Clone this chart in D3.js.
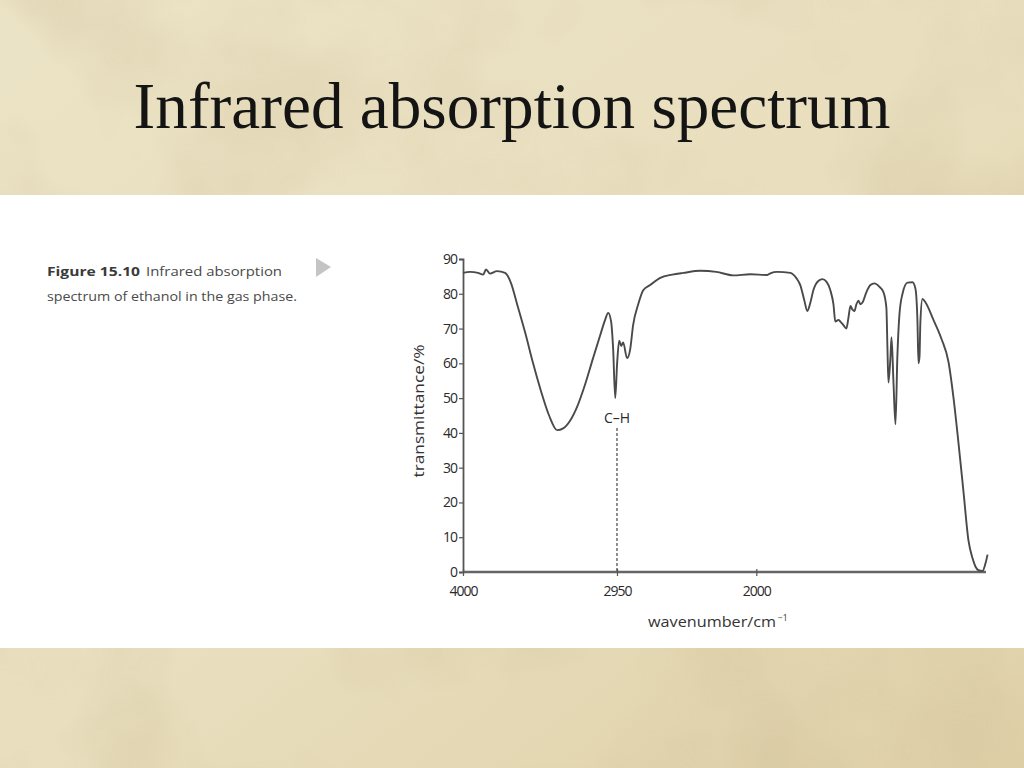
<!DOCTYPE html>
<html><head><meta charset="utf-8">
<script src="https://cdn.jsdelivr.net/npm/d3@7/dist/d3.min.js"></script>
<style>html,body{margin:0;padding:0;background:#e9dfc1;}svg{display:block;}</style>
</head><body>
<svg id="c" width="1024" height="768"></svg>
<script>
// ---- data ----
const wavenumber = [4000,3952,3898,3863,3843,3816,3768,3713,3672,3631,3577,3522,3468,3413,3358,3317,3270,3222,3167,3113,3065,3031,3010,2990,2976,2962,2949,2935,2921,2908,2881,2860,2840,2805,2771,2724,2655,2573,2498,2382,2273,2157,2041,1925,1904,1857,1768,1727,1700,1672,1652,1631,1611,1577,1549,1522,1495,1474,1461,1440,1427,1406,1386,1372,1358,1345,1331,1317,1304,1290,1276,1249,1222,1195,1160,1133,1113,1106,1099,1085,1078,1065,1051,1038,1024,1003,969,935,915,901,894,887,881,867,846,792,737,689,655,621,587,553,526,505,485,457,437,423];
const transmittance = [86,86.3,86,85.5,87,85.8,86.5,86,83,77,69,60,52,45,40.8,41.3,43.5,47.5,54,61.5,68,72.5,74.5,72,64,50,60,66.5,65,66,61.5,64,71,77,81,82.5,84.6,85.5,86,86.6,86.3,85.3,85.6,85.4,85.9,86.3,86,84.5,82.5,78,75,77.5,81,83.7,84.2,83.5,81,77,72,72.5,72,71,70,73,76.5,75.5,75,77,78,77,77.5,80.5,82.5,83,82,80.5,76,65,54.5,62,67.5,55,42.5,62,74,80,83.2,83.3,81.5,72,60,62,72,78.5,77.5,72.5,67,60.3,50,37,23,9,4,1.5,0.5,0.3,2.5,5];
const yTicks = [0,10,20,30,40,50,60,70,80,90];
const xTicks = [4000,2950,2000];
const markerWavenumber = 2950;
const markerLabel = "C–H";
const titleText = "Infrared absorption spectrum";
const captionBold = "Figure 15.10";
const captionLine1 = "Infrared absorption";
const captionLine2 = "spectrum of ethanol in the gas phase.";
const xLabel = "wavenumber/cm";
const yLabel = "transmittance/%";

const svg = d3.select("#c");
const defs = svg.append("defs");

// background paper
const g1 = defs.append("linearGradient").attr("id","bg").attr("x1","0").attr("y1","0").attr("x2","1").attr("y2","1");
g1.append("stop").attr("offset","0").attr("stop-color","#ebe3c5");
g1.append("stop").attr("offset","0.5").attr("stop-color","#e9dfbf");
g1.append("stop").attr("offset","1").attr("stop-color","#dfd0a7");
const f = defs.append("filter").attr("id","paper").attr("x","0").attr("y","0").attr("width","1").attr("height","1");
f.append("feTurbulence").attr("type","fractalNoise").attr("baseFrequency","0.006").attr("numOctaves","4").attr("seed","7");
f.append("feColorMatrix").attr("type","matrix")
 .attr("values","0 0 0 0 0.62  0 0 0 0 0.52  0 0 0 0 0.32  0 0 0 1.6 -0.7");
svg.append("rect").attr("width",1024).attr("height",768).attr("fill","url(#bg)");
svg.append("rect").attr("width",1024).attr("height",768).attr("filter","url(#paper)").attr("opacity",0.5);

// white panel
svg.append("rect").attr("x",0).attr("y",195).attr("width",1024).attr("height",453).attr("fill","#ffffff");

// title
const title = svg.append("text").attr("x",512).attr("y",128).attr("text-anchor","middle")
  .attr("font-family","'Liberation Serif','DejaVu Serif',serif").attr("font-size",56).attr("fill","#141414")
  .text(titleText);
const tl = title.node().getComputedTextLength();
title.attr("font-size", 56*757/tl);

// caption
const capFont = "'Open Sans','Noto Sans',sans-serif";
svg.append("text").attr("x",47).attr("y",276).attr("font-family",capFont).attr("font-size",12.5)
  .attr("font-weight","bold").attr("fill","#3a3a3a").text(captionBold)
  .attr("textLength",93).attr("lengthAdjust","spacingAndGlyphs");
svg.append("text").attr("x",146).attr("y",276).attr("font-family",capFont).attr("font-size",12.5)
  .attr("fill","#4a4a4a").text(captionLine1).attr("textLength",136).attr("lengthAdjust","spacingAndGlyphs");
svg.append("text").attr("x",47).attr("y",301).attr("font-family",capFont).attr("font-size",12.5)
  .attr("fill","#4a4a4a").text(captionLine2).attr("textLength",250).attr("lengthAdjust","spacingAndGlyphs");
svg.append("path").attr("d","M316,258 L331,267 L316,277 Z").attr("fill","#c4c4c4");

// scales
const x = d3.scaleLinear().domain([4000,420]).range([463,988]);
const y = d3.scaleLinear().domain([0,90]).range([572,259]);
const axFont = "'Open Sans','Noto Sans',sans-serif";

// y axis
const ya = svg.append("g").attr("transform","translate(463,0)")
  .call(d3.axisLeft(y).tickValues(yTicks).tickSize(4).tickPadding(2));
ya.select(".domain").attr("stroke","#555").attr("stroke-width",1.8);
ya.selectAll(".tick line").attr("stroke","#555").attr("stroke-width",1.2);
ya.selectAll("text").attr("font-family",axFont).attr("font-size",14).attr("fill","#2a2a2a").attr("letter-spacing","-1");

// x axis
const xa = svg.append("g").attr("transform","translate(0,572)")
  .call(d3.axisBottom(x).tickValues(xTicks).tickSize(4).tickPadding(10).tickFormat(d3.format("d")));
xa.select(".domain").attr("stroke","#666").attr("stroke-width",2.4).attr("d","M463,0H986");
xa.selectAll(".tick line").attr("stroke","#555").attr("stroke-width",1.2).attr("y1",-3);
xa.selectAll("text").attr("font-family",axFont).attr("font-size",14).attr("fill","#2a2a2a").attr("letter-spacing","-1");

// axis labels
svg.append("text").attr("transform","translate(424,411) rotate(-90)").attr("text-anchor","middle")
  .attr("font-family",axFont).attr("font-size",14).attr("fill","#333").text(yLabel)
  .attr("textLength",133).attr("lengthAdjust","spacingAndGlyphs");
const xl = svg.append("text").attr("x",648).attr("y",627)
  .attr("font-family",axFont).attr("font-size",14).attr("fill","#333");
xl.append("tspan").text(xLabel).attr("textLength",128).attr("lengthAdjust","spacingAndGlyphs");
xl.append("tspan").attr("font-size",8.5).attr("dy",-6).attr("dx",2).text("−1");

// marker
svg.append("line").attr("x1",x(markerWavenumber)).attr("x2",x(markerWavenumber))
  .attr("y1",428).attr("y2",572).attr("stroke","#444").attr("stroke-width",1.2).attr("stroke-dasharray","3,2");
svg.append("text").attr("x",x(markerWavenumber)).attr("y",423).attr("text-anchor","middle")
  .attr("font-family",axFont).attr("font-size",14).attr("fill","#2a2a2a").text(markerLabel);

// spectrum
const pts = wavenumber.map((w,i)=>[w,transmittance[i]]);
svg.append("path").datum(pts)
  .attr("d", d3.line().x(d=>x(d[0])).y(d=>y(d[1])).curve(d3.curveMonotoneX))
  .attr("fill","none").attr("stroke","#4a4a4a").attr("stroke-width",1.9).attr("stroke-linejoin","round");
</script>
</body></html>
